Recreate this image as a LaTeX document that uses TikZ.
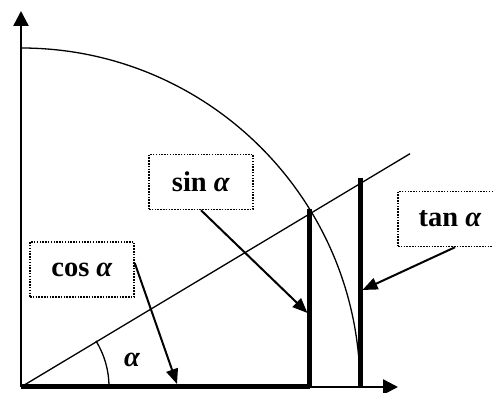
\documentclass[tikz,border=0pt]{standalone}
\usepackage{fontspec}
\setmainfont{Liberation Serif}
\usetikzlibrary{arrows.meta,calc}
\begin{document}
\begin{tikzpicture}[x=1pt,y=1pt,
  axis/.style={line width=2.4pt,-{Triangle[length=15pt,width=15pt]}},
  thin/.style={line width=1.3pt},
  thickseg/.style={line width=5pt},
  pointer/.style={line width=2pt,-{Triangle[length=15pt,width=12pt]}},
  labelbox/.style={draw,dash pattern=on 1.5pt off 1.3pt,line width=1.5pt,minimum width=104pt,minimum height=55pt,inner sep=0pt,font=\fontsize{28.5}{32}\selectfont\bfseries}]
\useasboundingbox (0,0) rectangle (493,393);
\clip (0,0) rectangle (493,393);
\coordinate (O) at (21,6);
\coordinate (X) at (398,6);
\coordinate (Y) at (21,382);
\coordinate (P) at (309.7,183.6);
\coordinate (C) at (309.7,6);
\coordinate (T) at (360,214.6);
\coordinate (Tb) at (360,6);
\coordinate (R) at (410,239.3);
% axes
\draw[axis] (O) -- (X);
\draw[axis] (O) -- (Y);
% circle quarter
\draw[thin] (360,6) arc (0:90:339);
% ray
\draw[thin] (O) -- (R);
% angle arc
\draw[thin] ($(O)+(88,0)$) arc (0:31.6:88);
\node[font=\fontsize{28.5}{32}\selectfont\bfseries\itshape] (alpha) at (132,33) {α};
% thick segments
\draw[thickseg] (O) -- (C);
\draw[thickseg] (C) -- (P);
\draw[thickseg] (Tb) -- (T);
% label boxes
\node[labelbox] (cosbox) at (82,123.5) {cos \textit{α}};
\node[labelbox] (sinbox) at (201,211) {sin \textit{α}};
\node[labelbox] (tanbox) at (450,174) {tan \textit{α}};
\coordinate (costip) at (177,9);
\coordinate (sintip) at (307.5,80);
\coordinate (tantip) at (362.5,103);
\draw[pointer] (cosbox.7) -- (costip);
\draw[pointer] (sinbox.south) -- (sintip);
\draw[pointer] ($(tanbox.south)+(5,0)$) -- (tantip);
\end{tikzpicture}
\end{document}
